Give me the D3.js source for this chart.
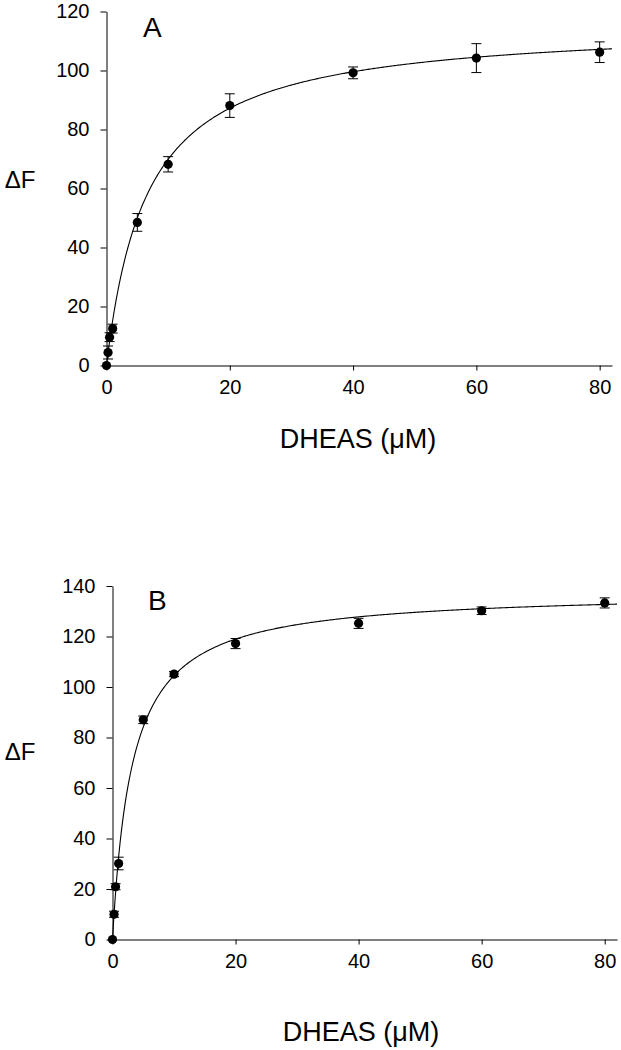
<!DOCTYPE html>
<html>
<head>
<meta charset="utf-8">
<script src="https://cdn.jsdelivr.net/npm/d3@7"></script>
<style>
  html, body { margin: 0; padding: 0; background: #fff; }
  svg text { font-family: "Liberation Sans", Arial, sans-serif; fill: #000; }
</style>
</head>
<body>
<svg id="chart" width="621" height="1050"></svg>
<script>
// ---- Data ----
const concA = [0, 0.25, 0.5, 1, 5, 10, 20, 40, 60, 80];
const dFA   = [0, 4.4, 9.6, 12.5, 48.5, 68.2, 88.1, 99.2, 104.2, 106.2];
const errA  = [0, 2.2, 1.5, 1.5, 3.0, 2.6, 4.0, 2.0, 4.9, 3.5];

const concB = [0, 0.25, 0.5, 1, 5, 10, 20, 40, 60, 80];
const dFB   = [0, 10.0, 20.9, 30.1, 87.0, 105.1, 117.2, 125.2, 130.2, 133.3];
const errB  = [0, 1.2, 1.2, 2.5, 1.5, 1.0, 2.0, 2.0, 1.5, 2.0];

// single-site binding fit (hyperbola) parameters
const fitA = { bmax: 116, kd: 6.6 };
const fitB = { bmax: 138, kd: 3.2 };

const xTicks = [0, 20, 40, 60, 80];
const yTicksA = [0, 20, 40, 60, 80, 100, 120];
const yTicksB = [0, 20, 40, 60, 80, 100, 120, 140];

const xLabel = "DHEAS (\u03BCM)";
const yLabel = "\u0394F";

const svg = d3.select("#chart");

function panel(cfg) {
  const g = svg.append("g");
  const x = d3.scaleLinear().domain([0, 82]).range([cfg.x0, cfg.x1]);
  const y = d3.scaleLinear().domain([0, cfg.ymax]).range([cfg.y0, cfg.y1]);

  // axes
  const ax = g.append("g").attr("transform", `translate(0,${cfg.y0})`)
    .call(d3.axisBottom(x).tickValues(xTicks).tickSize(5).tickSizeOuter(0).tickPadding(9));
  const ay = g.append("g").attr("transform", `translate(${cfg.x0},0)`)
    .call(d3.axisLeft(y).tickValues(cfg.yTicks).tickSize(6).tickSizeOuter(0).tickPadding(11));
  [ax, ay].forEach(a => {
    a.selectAll("path,line").attr("stroke", "#000").attr("stroke-width", 1);
    a.selectAll("text").attr("font-size", 20).attr("font-family", "Liberation Sans, Arial, sans-serif");
  });

  // fitted curve
  const n = 400;
  const curve = d3.range(n + 1).map(i => {
    const c = 82 * i / n;
    return [c, cfg.fit.bmax * c / (cfg.fit.kd + c)];
  });
  g.append("path")
    .datum(curve)
    .attr("fill", "none").attr("stroke", "#000").attr("stroke-width", 1.1)
    .attr("d", d3.line().x(d => x(d[0])).y(d => y(d[1])));

  const pts = cfg.conc.map((c, i) => ({ c, v: cfg.vals[i], e: cfg.errs[i] }));

  // error bars
  const eb = g.append("g").attr("stroke", "#000").attr("stroke-width", 1);
  pts.filter(d => d.e > 0).forEach(d => {
    eb.append("line").attr("x1", x(d.c)).attr("x2", x(d.c)).attr("y1", y(d.v - d.e)).attr("y2", y(d.v + d.e));
    eb.append("line").attr("x1", x(d.c) - 5).attr("x2", x(d.c) + 5).attr("y1", y(d.v - d.e)).attr("y2", y(d.v - d.e));
    eb.append("line").attr("x1", x(d.c) - 5).attr("x2", x(d.c) + 5).attr("y1", y(d.v + d.e)).attr("y2", y(d.v + d.e));
  });

  // points
  g.append("g").selectAll("circle").data(pts).join("circle")
    .attr("cx", d => x(d.c)).attr("cy", d => y(d.v)).attr("r", 4.6).attr("fill", "#000");

  // labels
  g.append("text").attr("x", cfg.letterX).attr("y", cfg.letterY).attr("font-size", 28).text(cfg.letter);
  g.append("text").attr("x", 20).attr("y", cfg.yLabY).attr("text-anchor", "middle")
    .attr("font-size", 24).text(yLabel);
  g.append("text").attr("x", cfg.xLabX).attr("y", cfg.xLabY).attr("text-anchor", "middle")
    .attr("font-size", 27).text(xLabel);
}

panel({
  x0: 106.5, x1: 612, y0: 365.5, y1: 11.5, ymax: 120, yTicks: yTicksA,
  conc: concA, vals: dFA, errs: errA, fit: fitA,
  letter: "A", letterX: 143, letterY: 37, yLabY: 188, xLabX: 358, xLabY: 448
});
panel({
  x0: 112.5, x1: 617, y0: 939.5, y1: 586, ymax: 140, yTicks: yTicksB,
  conc: concB, vals: dFB, errs: errB, fit: fitB,
  letter: "B", letterX: 148, letterY: 610, yLabY: 760, xLabX: 361, xLabY: 1041
});
</script>
</body>
</html>
